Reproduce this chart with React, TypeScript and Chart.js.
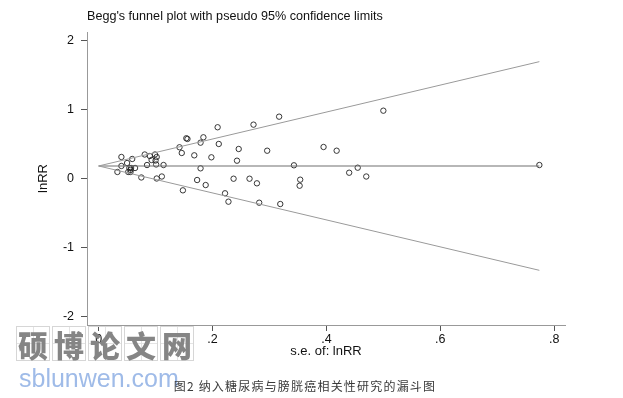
import React, { useEffect, useRef } from "react";
import { Chart, registerables } from "chart.js";

Chart.register(...registerables);

// Standard error of lnRR for each study (x) and lnRR (y)
const seValues = [
  0.033, 0.040, 0.040, 0.050, 0.052, 0.054, 0.056, 0.057, 0.056, 0.059,
  0.064, 0.075, 0.081, 0.085, 0.090, 0.093, 0.099, 0.100, 0.102, 0.101,
  0.102, 0.111, 0.114,
  0.209, 0.272, 0.154, 0.156, 0.184, 0.179, 0.211, 0.142, 0.146, 0.246,
  0.296, 0.168, 0.198, 0.243, 0.179, 0.173, 0.188, 0.237, 0.265, 0.278,
  0.148, 0.222, 0.228, 0.282, 0.319,
  0.317, 0.500, 0.395, 0.418, 0.343, 0.354, 0.353, 0.455, 0.440, 0.470,
  0.774,
];
const lnRRValues = [
  0.095, 0.313, 0.182, 0.225, 0.095, 0.153, 0.124, 0.153, 0.095, 0.284,
  0.153, 0.015, 0.349, 0.196, 0.327, 0.269, 0.349, 0.262, 0.313, 0.204,
  0.000, 0.029, 0.196,
  0.745, 0.783, 0.585, 0.575, 0.599, 0.521, 0.502, 0.454, 0.371, 0.429,
  0.404, 0.337, 0.308, 0.259, 0.148, -0.022, -0.095, -0.003, -0.003, -0.070,
  -0.172, -0.215, -0.337, -0.352, -0.371,
  0.899, 0.986, 0.458, 0.404, 0.192, -0.017, -0.105, 0.157, 0.084, 0.029,
  0.196,
];

// Funnel lines (pooled estimate and pseudo 95% limits), endpoints
const funnelSe = [0, 0.774];
const pooledLine = [0.182, 0.182];
const upperLimit = [0.182, 1.699];
const lowerLimit = [0.182, -1.335];

const xTicks = [0, 0.2, 0.4, 0.6, 0.8];
const yTicks = [-2, -1, 0, 1, 2];

const chartTitle = "Begg's funnel plot with pseudo 95% confidence limits";
const xTitle = "s.e. of: lnRR";
const yTitle = "lnRR";
const caption = "图2 纳入糖尿病与膀胱癌相关性研究的漏斗图";
const watermarkChars = ["硕", "博", "论", "文", "网"];
const watermarkUrl = "sblunwen.com";

const fmtX = (v: number) => (v === 0 ? "0" : String(Number(v.toFixed(1))).replace(/^0\./, ".").replace(/^-0\./, "-."));

const FONT = "'Liberation Sans', Arial, sans-serif";

const titlePlugin = {
  id: "stataTitle",
  afterDraw(chart: any) {
    const { ctx, chartArea } = chart;
    ctx.save();
    ctx.fillStyle = "#111";
    ctx.font = `12.6px ${FONT}`;
    ctx.textAlign = "left";
    ctx.textBaseline = "middle";
    ctx.fillText(chartTitle, chartArea.left, 17);
    ctx.restore();
  },
};

export default function App() {
  const canvasRef = useRef<HTMLCanvasElement | null>(null);

  useEffect(() => {
    const canvas = canvasRef.current;
    if (!canvas) return;
    const pts = seValues.map((s, i) => ({ x: s, y: lnRRValues[i] }));
    const line = (ys: number[]) => funnelSe.map((s, i) => ({ x: s, y: ys[i] }));
    const chart = new Chart(canvas, {
      type: "scatter",
      data: {
        datasets: [
          {
            label: "upper",
            data: line(upperLimit),
            showLine: true,
            borderColor: "#9a9a9a",
            borderWidth: 1,
            pointRadius: 0,
          },
          {
            label: "lower",
            data: line(lowerLimit),
            showLine: true,
            borderColor: "#9a9a9a",
            borderWidth: 1,
            pointRadius: 0,
          },
          {
            label: "pooled",
            data: line(pooledLine),
            showLine: true,
            borderColor: "#707070",
            borderWidth: 1.1,
            pointRadius: 0,
          },
          {
            label: "studies",
            data: pts,
            showLine: false,
            pointRadius: 2.7,
            pointBorderWidth: 0.9,
            pointBorderColor: "#222",
            pointBackgroundColor: "rgba(0,0,0,0)",
          },
        ],
      },
      options: {
        responsive: false,
        animation: false,
        events: [],
        layout: { padding: { left: 0, top: 32, right: 58, bottom: 0 } },
        plugins: {
          legend: { display: false },
          tooltip: { enabled: false },
          title: { display: false },
        },
        scales: {
          x: {
            type: "linear",
            min: -0.0204,
            max: 0.819,
            afterBuildTicks: (scale: any) => {
              scale.ticks = xTicks.map((v) => ({ value: v }));
            },
            afterFit: (scale: any) => {
              scale.height = 73;
            },
            ticks: {
              callback: (v: any) => fmtX(Number(v)),
              color: "#111",
              font: { family: FONT, size: 12.5 },
              padding: 1,
              maxRotation: 0,
              autoSkip: false,
            },
            grid: {
              display: true,
              drawOnChartArea: false,
              drawTicks: true,
              tickLength: 6,
              color: "#555",
            },
            border: { display: true, color: "#999", width: 1 },
            title: {
              display: true,
              text: xTitle,
              color: "#111",
              font: { family: FONT, size: 13 },
              padding: { top: 0, bottom: 39 },
            },
          },
          y: {
            type: "linear",
            min: -2.13,
            max: 2.13,
            afterBuildTicks: (scale: any) => {
              scale.ticks = yTicks.map((v) => ({ value: v }));
            },
            afterFit: (scale: any) => {
              scale.width = 87;
            },
            ticks: {
              callback: (v: any) => String(v),
              color: "#111",
              font: { family: FONT, size: 12.5 },
              padding: 7,
              autoSkip: false,
            },
            grid: {
              display: true,
              drawOnChartArea: false,
              drawTicks: true,
              tickLength: 6,
              color: "#555",
            },
            border: { display: true, color: "#999", width: 1 },
            title: {
              display: true,
              text: yTitle,
              color: "#111",
              font: { family: FONT, size: 13 },
              padding: { top: 36, bottom: 0 },
            },
          },
        },
      },
      plugins: [titlePlugin],
    } as any);
    return () => chart.destroy();
  }, []);

  return (
    <div
      style={{
        position: "fixed",
        left: 0,
        top: 0,
        width: 623,
        height: 398,
        background: "#fff",
        overflow: "hidden",
      }}
    >
      <canvas ref={canvasRef} width={623} height={398} style={{ display: "block" }} />
      <div style={{ position: "absolute", left: 16, top: 326, display: "flex", gap: 0 }}>
        {watermarkChars.map((c) => (
          <div
            key={c}
            style={{
              width: 34,
              height: 35,
              marginRight: 2,
              border: "1px solid #d6d6d6",
              boxSizing: "border-box",
              display: "flex",
              alignItems: "center",
              justifyContent: "center",
              fontFamily: "'Noto Sans CJK SC', sans-serif",
              fontWeight: 900,
              fontSize: 30,
              color: "#858585",
              lineHeight: 1,
              background:
                "linear-gradient(#e4e4e4,#e4e4e4) center/1px 100% no-repeat, linear-gradient(#e4e4e4,#e4e4e4) center/100% 1px no-repeat",
            }}
          >
            {c}
          </div>
        ))}
      </div>
      <div
        style={{
          position: "absolute",
          left: 19,
          top: 363,
          fontFamily: FONT,
          fontSize: 25,
          color: "#9fbbe8",
          lineHeight: "30px",
        }}
      >
        {watermarkUrl}
      </div>
      <div
        style={{
          position: "absolute",
          left: 0,
          width: 610,
          top: 378,
          textAlign: "center",
          fontFamily: "'Noto Sans CJK SC', sans-serif",
          fontSize: 12,
          letterSpacing: 1.2,
          color: "#3a3a3a",
          lineHeight: "16px",
        }}
      >
        {caption}
      </div>
    </div>
  );
}
